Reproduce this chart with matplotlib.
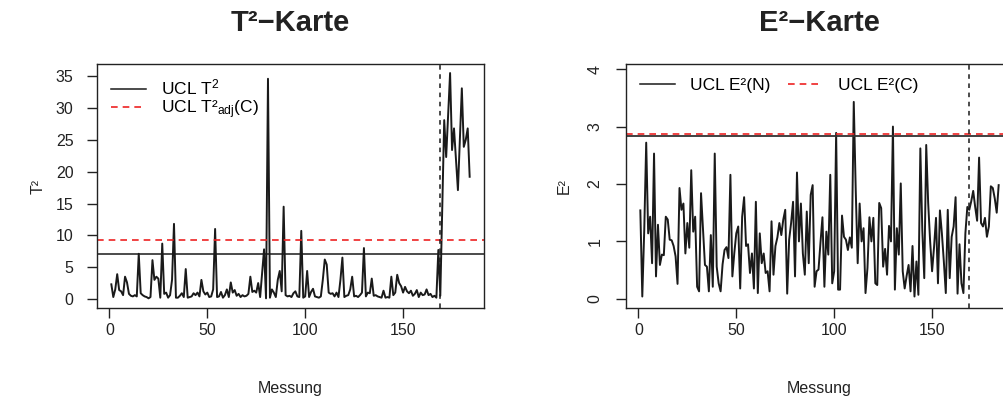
import numpy as np
import matplotlib
matplotlib.use("Agg")
import matplotlib.pyplot as plt

plt.rcParams['font.family'] = ['Liberation Sans', 'DejaVu Sans']
plt.rcParams['mathtext.fontset'] = 'custom'
plt.rcParams['mathtext.rm'] = 'Liberation Sans'
plt.rcParams['mathtext.it'] = 'Liberation Sans:italic'

t2_values = [
    2.3, 0.3, 1.5, 3.9, 1.4, 1.2, 0.6, 3.5, 2.6, 0.8,
    0.5, 0.4, 0.6, 0.4, 7.1, 0.9, 0.6, 0.4, 0.3, 0.1,
    0.3, 6.1, 3.0, 3.5, 3.2, 0.2, 8.7, 0.8, 1.0, 0.2,
    0.6, 3.0, 11.8, 0.2, 0.2, 0.5, 0.9, 0.3, 4.7, 0.2,
    0.3, 0.4, 0.9, 0.6, 1.0, 0.4, 3.0, 1.2, 0.7, 1.0,
    0.3, 0.4, 1.5, 11.0, 0.3, 0.4, 1.1, 0.2, 0.6, 1.5,
    0.3, 2.6, 1.0, 1.4, 0.5, 0.8, 0.3, 0.6, 0.4, 0.5,
    0.8, 3.5, 1.1, 1.3, 1.0, 2.5, 0.3, 4.0, 7.8, 0.1,
    34.6, 0.2, 1.5, 1.0, 0.3, 3.0, 4.4, 1.2, 14.5, 0.6,
    0.4, 0.5, 0.3, 0.9, 1.2, 0.4, 0.3, 10.7, 0.2, 0.4,
    4.4, 0.3, 1.1, 1.6, 0.4, 0.3, 0.2, 0.4, 3.0, 6.2,
    5.4, 1.0, 0.8, 0.9, 0.4, 1.0, 0.3, 3.0, 6.5, 0.3,
    0.5, 0.6, 1.5, 3.5, 0.4, 0.5, 0.3, 0.6, 1.0, 8.0,
    0.4, 1.0, 0.9, 3.2, 0.5, 0.6, 0.4, 0.3, 0.2, 1.3,
    0.2, 0.3, 0.2, 3.5, 0.6, 1.0, 3.8, 2.5, 2.0, 1.0,
    1.9, 1.2, 0.9, 1.3, 0.5, 0.8, 1.4, 0.3, 1.0, 0.6,
    0.7, 1.5, 0.6, 0.8, 0.3, 0.5, 0.2, 7.7, 0.5, 14.0,
    28.1, 22.3, 29.0, 35.5, 23.4, 26.8, 22.0, 17.1, 25.0, 33.1,
    23.9, 25.0, 26.8, 19.2,
]

# E² statistic per measurement
e2_values = [
    1.54, 0.04, 1.20, 2.72, 1.14, 1.43, 0.62, 2.53, 0.39, 1.29,
    0.59, 0.77, 0.76, 1.43, 1.38, 1.03, 1.02, 0.92, 0.74, 0.26,
    1.93, 1.55, 1.66, 0.79, 1.32, 0.89, 2.24, 1.17, 1.43, 0.21,
    0.13, 1.84, 1.20, 0.59, 0.56, 0.13, 1.11, 0.21, 2.53, 0.56,
    0.27, 0.13, 0.60, 0.85, 0.90, 0.71, 2.16, 0.39, 0.80, 1.14,
    1.26, 0.18, 1.43, 1.77, 0.92, 0.95, 0.45, 0.79, 0.18, 1.69,
    0.10, 1.14, 0.62, 0.79, 0.45, 0.48, 0.13, 1.35, 0.42, 0.92,
    1.07, 1.32, 1.11, 1.38, 1.55, 0.09, 1.03, 1.32, 1.69, 0.39,
    2.20, 1.00, 1.66, 0.79, 0.42, 1.52, 0.62, 1.81, 1.98, 0.21,
    0.48, 0.51, 0.98, 1.42, 0.21, 1.17, 0.77, 2.16, 0.27, 0.48,
    2.89, 0.16, 0.16, 1.45, 1.08, 1.03, 0.85, 1.07, 0.89, 3.43,
    1.90, 0.62, 1.66, 1.00, 1.23, 0.10, 0.54, 1.42, 1.00, 1.41,
    0.27, 0.24, 1.67, 1.58, 0.56, 0.87, 0.42, 1.27, 1.00, 3.00,
    0.16, 1.23, 0.77, 2.01, 0.48, 0.18, 0.40, 0.59, 0.13, 0.92,
    0.04, 0.65, 0.07, 2.62, 1.20, 0.36, 2.68, 1.67, 1.00, 0.48,
    0.90, 1.41, 0.27, 1.54, 1.14, 0.65, 0.10, 1.55, 0.36, 1.08,
    1.26, 1.77, 0.09, 0.95, 0.27, 0.10, 1.14, 1.60, 1.55, 1.70,
    1.88, 1.60, 1.36, 2.46, 1.32, 1.26, 1.41, 1.08, 1.26, 1.96,
    1.93, 1.75, 1.50, 1.98,
]

ucl_t2 = 7.1
ucl_t2_adj = 9.3
ucl_e2_n = 2.84
ucl_e2_c = 2.875
change_point = 169

x_ticks = [0, 50, 100, 150]
t2_yticks = [0, 5, 10, 15, 20, 25, 30, 35]
e2_yticks = [0, 1, 2, 3, 4]

W, H = 1004, 403
fig = plt.figure(figsize=(W / 100, H / 100), dpi=100)

def style_axes(ax):
    for s in ax.spines.values():
        s.set_linewidth(1.0)
        s.set_color('#222222')
    ax.tick_params(direction='out', length=7, width=1.0, colors='#222222',
                   labelsize=11.5, labelcolor='#222222')
    ax.tick_params(axis='y', pad=10)
    ax.set_xticks(x_ticks)
    ax.set_xlabel('Messung', fontsize=11.5, labelpad=31, color='#222222')

n = len(t2_values)
xs = np.arange(1, n + 1)
xlim = (1 - 0.04 * (n - 1), n + 0.04 * (n - 1))

# left panel: T² chart
ax1 = fig.add_axes([97 / W, (H - 308) / H, 387 / W, 244 / H])
ax1.plot(xs, t2_values, color='#1a1a1a', lw=1.4)
ax1.axhline(ucl_t2, color='#1a1a1a', lw=1.1, label='UCL T$^{2}$')
ax1.axhline(ucl_t2_adj, color='#ee2222', lw=1.2, ls=(0, (4, 3)),
            label='UCL T\u00b2$_{\\mathrm{adj}}$(C)')
ax1.axvline(change_point, color='#1a1a1a', lw=1.1, ls=(0, (3, 3)))
ax1.set_xlim(xlim)
lo, hi = 0.0, max(t2_values)
ax1.set_ylim(lo - 0.04 * (hi - lo), hi + 0.04 * (hi - lo))
ax1.set_yticks(t2_yticks)
style_axes(ax1)
ax1.set_ylabel('T\u00b2', fontsize=11.5, labelpad=7, color='#222222')
ax1.set_title('T\u00b2\u2212Karte', fontsize=21, fontweight='bold', pad=24,
              color='#222222')
ax1.legend(loc='upper left', frameon=False, fontsize=12.5, handlelength=2.0,
           borderaxespad=0.4, labelspacing=0.05, handletextpad=0.9)

# right panel: E² chart
ax2 = fig.add_axes([626 / W, (H - 308) / H, 387 / W, 244 / H])
ax2.plot(xs, e2_values, color='#1a1a1a', lw=1.4)
ax2.axhline(ucl_e2_c, color='#ee2222', lw=1.2, ls=(0, (4, 3)))
ax2.axhline(ucl_e2_n, color='#333333', lw=1.3)
ax2.axvline(change_point, color='#1a1a1a', lw=1.1, ls=(0, (3, 3)))
ax2.set_xlim(xlim)
ax2.set_ylim(-0.16, 4.09)
ax2.set_yticks(e2_yticks)
style_axes(ax2)
for lab in ax2.get_yticklabels():
    lab.set_rotation(90)
    lab.set_va('center')
ax2.set_ylabel('E\u00b2', fontsize=11.5, labelpad=11, color='#222222')
ax2.set_title('E\u00b2\u2212Karte', fontsize=21, fontweight='bold', pad=24,
              color='#222222')
h1, = ax2.plot([], [], color='#1a1a1a', lw=1.1)
h2, = ax2.plot([], [], color='#ee2222', lw=1.2, ls=(0, (4, 3)))
ax2.legend([h1, h2], ['UCL E\u00b2(N)', 'UCL E\u00b2(C)'], loc='upper left',
           ncol=2, frameon=False, fontsize=12.5, handlelength=2.0,
           borderaxespad=0.4, columnspacing=1.0, handletextpad=0.9)

fig.savefig('out.png', dpi=100)
